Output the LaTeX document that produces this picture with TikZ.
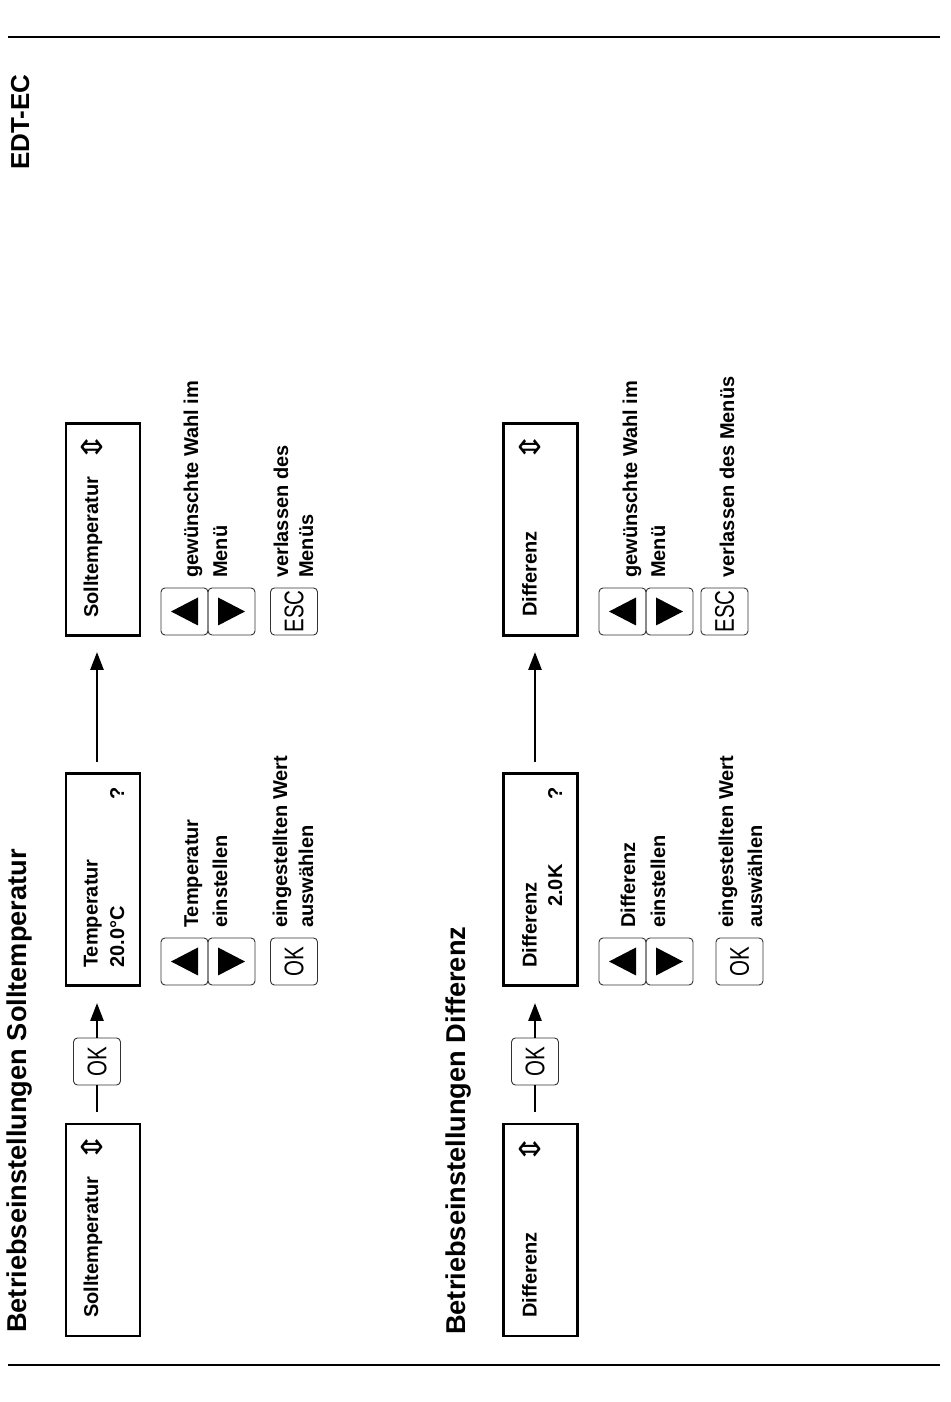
\documentclass[tikz,border=0pt]{standalone}
\usepackage{fontspec}
\setmainfont{Liberation Sans}
\newfontfamily\keyfont[FakeStretch=0.76]{Liberation Sans}
\newfontfamily\symfont{DejaVu Sans}
\usepackage{tikz}
\usetikzlibrary{arrows.meta}

\begin{document}
\begin{tikzpicture}[
    x=1pt, y=1pt,
    rotate=90, transform shape,
    rule line/.style={line width=2pt},
    display/.style={draw, line width=2.8pt, minimum width=212pt, minimum height=74pt, inner sep=0pt},
    key/.style={draw=black!80, line width=0.9pt, rounded corners=4pt, minimum width=47pt, minimum height=47pt, inner sep=0pt, font=\keyfont\fontsize{27}{27}\selectfont},
    flow line/.style={line width=2.7pt},
    flow arrow/.style={line width=2.7pt, -{Triangle[length=18pt,width=13pt]}},
    heading/.style={anchor=base west, inner sep=0pt, font=\bfseries\fontsize{27.2}{30}\selectfont},
    screen text/.style={anchor=base west, inner sep=0pt, font=\bfseries\fontsize{20}{24}\selectfont},
    hint/.style={anchor=base west, inner sep=0pt, font=\bfseries\fontsize{20}{24}\selectfont},
    scroll mark/.style={inner sep=0pt, xscale=1.25, font=\symfont\fontsize{29}{29}\selectfont},
    ]

    % page frame (reading direction, page turned)
    \useasboundingbox (0,0) rectangle (1402,-950);
    \coordinate (r1) at (37,-8);   \coordinate (r2) at (37,-940);
    \coordinate (r3) at (1365,-8); \coordinate (r4) at (1365,-940);
    \draw[rule line] (r1) -- (r2);
    \draw[rule line] (r3) -- (r4);
    \node[heading, font=\bfseries\fontsize{26}{30}\selectfont] (model) at (1232,-29) {EDT-EC};

    % row one: Solltemperatur
    \node[heading] (title1) at (69,-27) {Betriebseinstellungen Solltemperatur};
    \node[display] (A1) at (172,-103) {};
    \node[display] (A2) at (522.5,-103) {};
    \node[display] (A3) at (872.5,-103) {};
    \node[key] (okA) at (340.5,-97) {OK};
    % connector ends on the displays
    \coordinate (A1out) at (278,-97); \coordinate (A2in) at (416,-97);
    \coordinate (A2out) at (629,-97); \coordinate (A3in) at (766,-97);
    % display texts
    \node[screen text] (A1text) at (84,-98) {Solltemperatur};
    \node[scroll mark] (A1mark) at (254.5,-92) {⇕};
    \node[screen text] (A2text) at (434,-97.5) {Temperatur};
    \node[screen text] (A2value) at (434,-124) {20.0°C};
    \node[screen text] (A2ask) at (602,-124) {?};
    \node[screen text] (A3text) at (784,-98) {Solltemperatur};
    \node[scroll mark] (A3mark) at (954.5,-92) {⇕};
    % connectors
    \draw[flow line, shorten <=12pt] (A1out) -- (okA.west);
    \draw[flow arrow, shorten >=17pt] (okA.east) -- (A2in);
    \draw[flow arrow, shorten <=11pt, shorten >=16pt] (A2out) -- (A3in);
    % keys below the displays
    \node[key] (upA) at (440.5,-184.5) {};
    \node[key] (downA) at (440.5,-231.5) {};
    \node[key] (okB) at (440.5,-294) {OK};
    \node[key] (upB) at (790.5,-184.5) {};
    \node[key] (downB) at (790.5,-231.5) {};
    \node[key] (escA) at (790.5,-294) {ESC};
    \fill (upA.center) ++(0,13.5) -- ++(-14,-27) -- ++(28,0) -- cycle;
    \fill (downA.center) ++(0,-13.5) -- ++(-14,27) -- ++(28,0) -- cycle;
    \fill (upB.center) ++(0,13.5) -- ++(-14,-27) -- ++(28,0) -- cycle;
    \fill (downB.center) ++(0,-13.5) -- ++(-14,27) -- ++(28,0) -- cycle;
    % hints
    \node[hint] (hA1) at (474,-198) {Temperatur};
    \node[hint] (hA2) at (474,-227) {einstellen};
    \node[hint] (hA3) at (474,-287) {eingestellten Wert};
    \node[hint] (hA4) at (474,-313) {auswählen};
    \node[hint] (hB1) at (824,-198) {gewünschte Wahl im};
    \node[hint] (hB2) at (824,-227) {Menü};
    \node[hint] (hB3) at (824,-288) {verlassen des};
    \node[hint] (hB4) at (824,-313) {Menüs};

    % row two: Differenz
    \node[heading] (title2) at (67,-465) {Betriebseinstellungen Differenz};
    \node[display] (B1) at (172,-540.5) {};
    \node[display] (B2) at (522.5,-540.5) {};
    \node[display] (B3) at (872.5,-540.5) {};
    \node[key] (okC) at (340.5,-535) {OK};
    % connector ends on the displays
    \coordinate (B1out) at (278,-535); \coordinate (B2in) at (416,-535);
    \coordinate (B2out) at (629,-535); \coordinate (B3in) at (766,-535);
    % display texts
    \node[screen text] (B1text) at (84,-536.5) {Differenz};
    \node[scroll mark] (B1mark) at (253,-530) {⇕};
    \node[screen text] (B2text) at (434,-536.5) {Differenz};
    \node[screen text] (B2value) at (495,-562) {2.0K};
    \node[screen text] (B2ask) at (602,-562) {?};
    \node[screen text] (B3text) at (785,-536.5) {Differenz};
    \node[scroll mark] (B3mark) at (954.5,-530) {⇕};
    % connectors
    \draw[flow line, shorten <=12pt] (B1out) -- (okC.west);
    \draw[flow arrow, shorten >=17pt] (okC.east) -- (B2in);
    \draw[flow arrow, shorten <=11pt, shorten >=16pt] (B2out) -- (B3in);
    % keys below the displays
    \node[key] (upC) at (440.5,-622.5) {};
    \node[key] (downC) at (440.5,-669.5) {};
    \node[key] (okD) at (440.5,-739.5) {OK};
    \node[key] (upD) at (790.5,-622.5) {};
    \node[key] (downD) at (790.5,-669.5) {};
    \node[key] (escB) at (790.5,-724.5) {ESC};
    \fill (upC.center) ++(0,13.5) -- ++(-14,-27) -- ++(28,0) -- cycle;
    \fill (downC.center) ++(0,-13.5) -- ++(-14,27) -- ++(28,0) -- cycle;
    \fill (upD.center) ++(0,13.5) -- ++(-14,-27) -- ++(28,0) -- cycle;
    \fill (downD.center) ++(0,-13.5) -- ++(-14,27) -- ++(28,0) -- cycle;
    % hints
    \node[hint] (hC1) at (474,-635) {Differenz};
    \node[hint] (hC2) at (474,-665) {einstellen};
    \node[hint] (hC3) at (474,-733) {eingestellten Wert};
    \node[hint] (hC4) at (474,-762) {auswählen};
    \node[hint] (hD1) at (824,-637) {gewünschte Wahl im};
    \node[hint] (hD2) at (824,-665) {Menü};
    \node[hint] (hD3) at (824,-734) {verlassen des Menüs};
\end{tikzpicture}
\end{document}
